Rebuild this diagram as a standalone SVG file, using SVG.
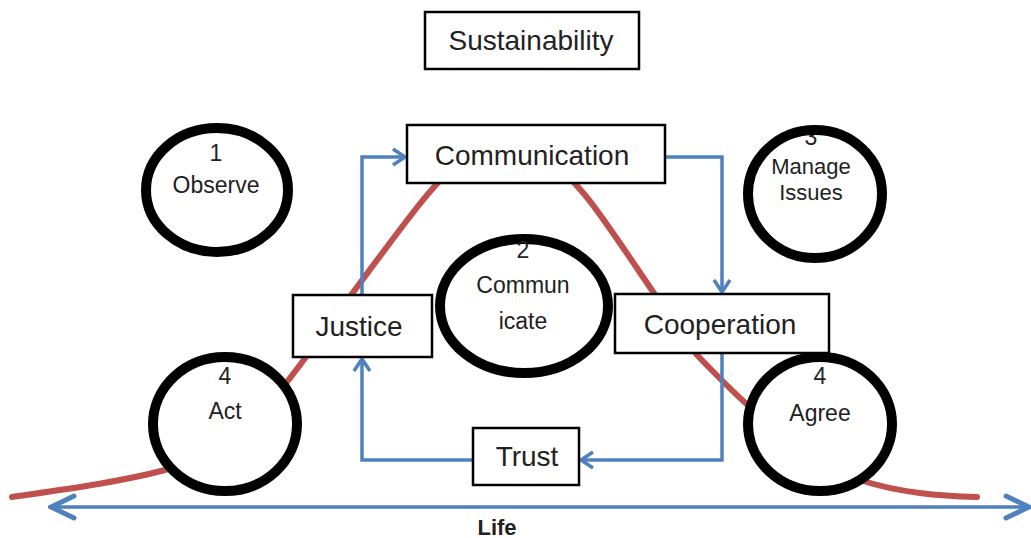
<svg xmlns="http://www.w3.org/2000/svg" width="1031" height="538" viewBox="0 0 1031 538">
<style>
.box{fill:#fff;stroke:#000;stroke-width:2.5}
.circ{fill:#fff;stroke:#000;stroke-width:10}
.t{font-family:"Liberation Sans",Arial,sans-serif;fill:#222;text-anchor:middle}
.bt{font-size:28px}
.ct{font-size:23px}
.conn{fill:none;stroke:#4f81bd;stroke-width:3.5}
</style>
<defs>
<marker id="ah" markerUnits="userSpaceOnUse" markerWidth="20" markerHeight="20" viewBox="0 0 20 20" refX="16" refY="10" orient="auto">
<path d="M4,2 L16,10 L4,18" fill="none" stroke="#4f81bd" stroke-width="3.5"/>
</marker>
<marker id="lh" markerUnits="userSpaceOnUse" markerWidth="30" markerHeight="30" viewBox="0 0 30 30" refX="27" refY="15" orient="auto-start-reverse">
<path d="M4,4 L27,15 L4,26" fill="none" stroke="#4f81bd" stroke-width="5" stroke-linecap="round"/>
</marker>
</defs>
<rect width="1031" height="538" fill="#fff"/>
<path id="curve" d="M 12 497 C 60 490, 120 482, 165 470 S 260 420, 300 365 S 380 255, 415 210 S 480 140, 505 140 S 560 165, 585 195 S 650 290, 697 355 C 740 400, 790 450, 860 480 C 900 493, 940 496, 977 497" fill="none" stroke="#c0504d" stroke-width="6" stroke-linecap="round"/>
<g id="connectors">
<path class="conn" d="M362,295 V157 H405" marker-end="url(#ah)"/>
<path class="conn" d="M665,157 H722 V292" marker-end="url(#ah)"/>
<path class="conn" d="M722,353 V460 H581" marker-end="url(#ah)"/>
<path class="conn" d="M473,460 H362 V359" marker-end="url(#ah)"/>
<path class="conn" d="M51,507 H1029" stroke-width="4.5" marker-start="url(#lh)" marker-end="url(#lh)"/>
</g>
<g id="sustainability"><rect class="box" x="425" y="12" width="214" height="57"/><text class="t bt" x="531" y="50">Sustainability</text></g>
<g id="communication"><rect class="box" x="407" y="125" width="258" height="58"/><text class="t bt" x="532" y="165">Communication</text></g>
<g id="justice"><rect class="box" x="293" y="295" width="139" height="62"/><text class="t bt" x="359" y="336">Justice</text></g>
<g id="cooperation"><rect class="box" x="615" y="294" width="214" height="59"/><text class="t bt" x="720" y="334">Cooperation</text></g>
<g id="trust"><rect class="box" x="473" y="428" width="106" height="57"/><text class="t bt" x="527" y="466">Trust</text></g>
<g id="observe"><ellipse class="circ" cx="217" cy="190" rx="71" ry="62"/><text class="t ct" x="216" y="161">1</text><text class="t ct" x="216" y="193">Observe</text></g>
<g id="manage"><ellipse cx="815" cy="194" rx="67" ry="64" fill="#fff"/><text class="t ct" x="811" y="145">3</text><ellipse cx="815" cy="194" rx="67" ry="64" fill="none" stroke="#000" stroke-width="10"/><text class="t" font-size="22" x="811" y="174">Manage</text><text class="t" font-size="22" x="811" y="200">Issues</text></g>
<g id="communicate"><ellipse class="circ" cx="524" cy="306" rx="84" ry="67"/><text class="t ct" x="523" y="258">2</text><text class="t ct" x="523" y="293">Commun</text><text class="t ct" x="523" y="329">icate</text></g>
<g id="act"><ellipse class="circ" cx="225" cy="424" rx="72" ry="67"/><text class="t ct" x="225" y="384">4</text><text class="t ct" x="225" y="419">Act</text></g>
<g id="agree"><ellipse class="circ" cx="820" cy="424" rx="72" ry="67"/><text class="t ct" x="820" y="384">4</text><text class="t ct" x="820" y="421">Agree</text></g>
<text class="t" x="497" y="535" font-size="22" font-weight="bold" fill="#000">Life</text>
</svg>
